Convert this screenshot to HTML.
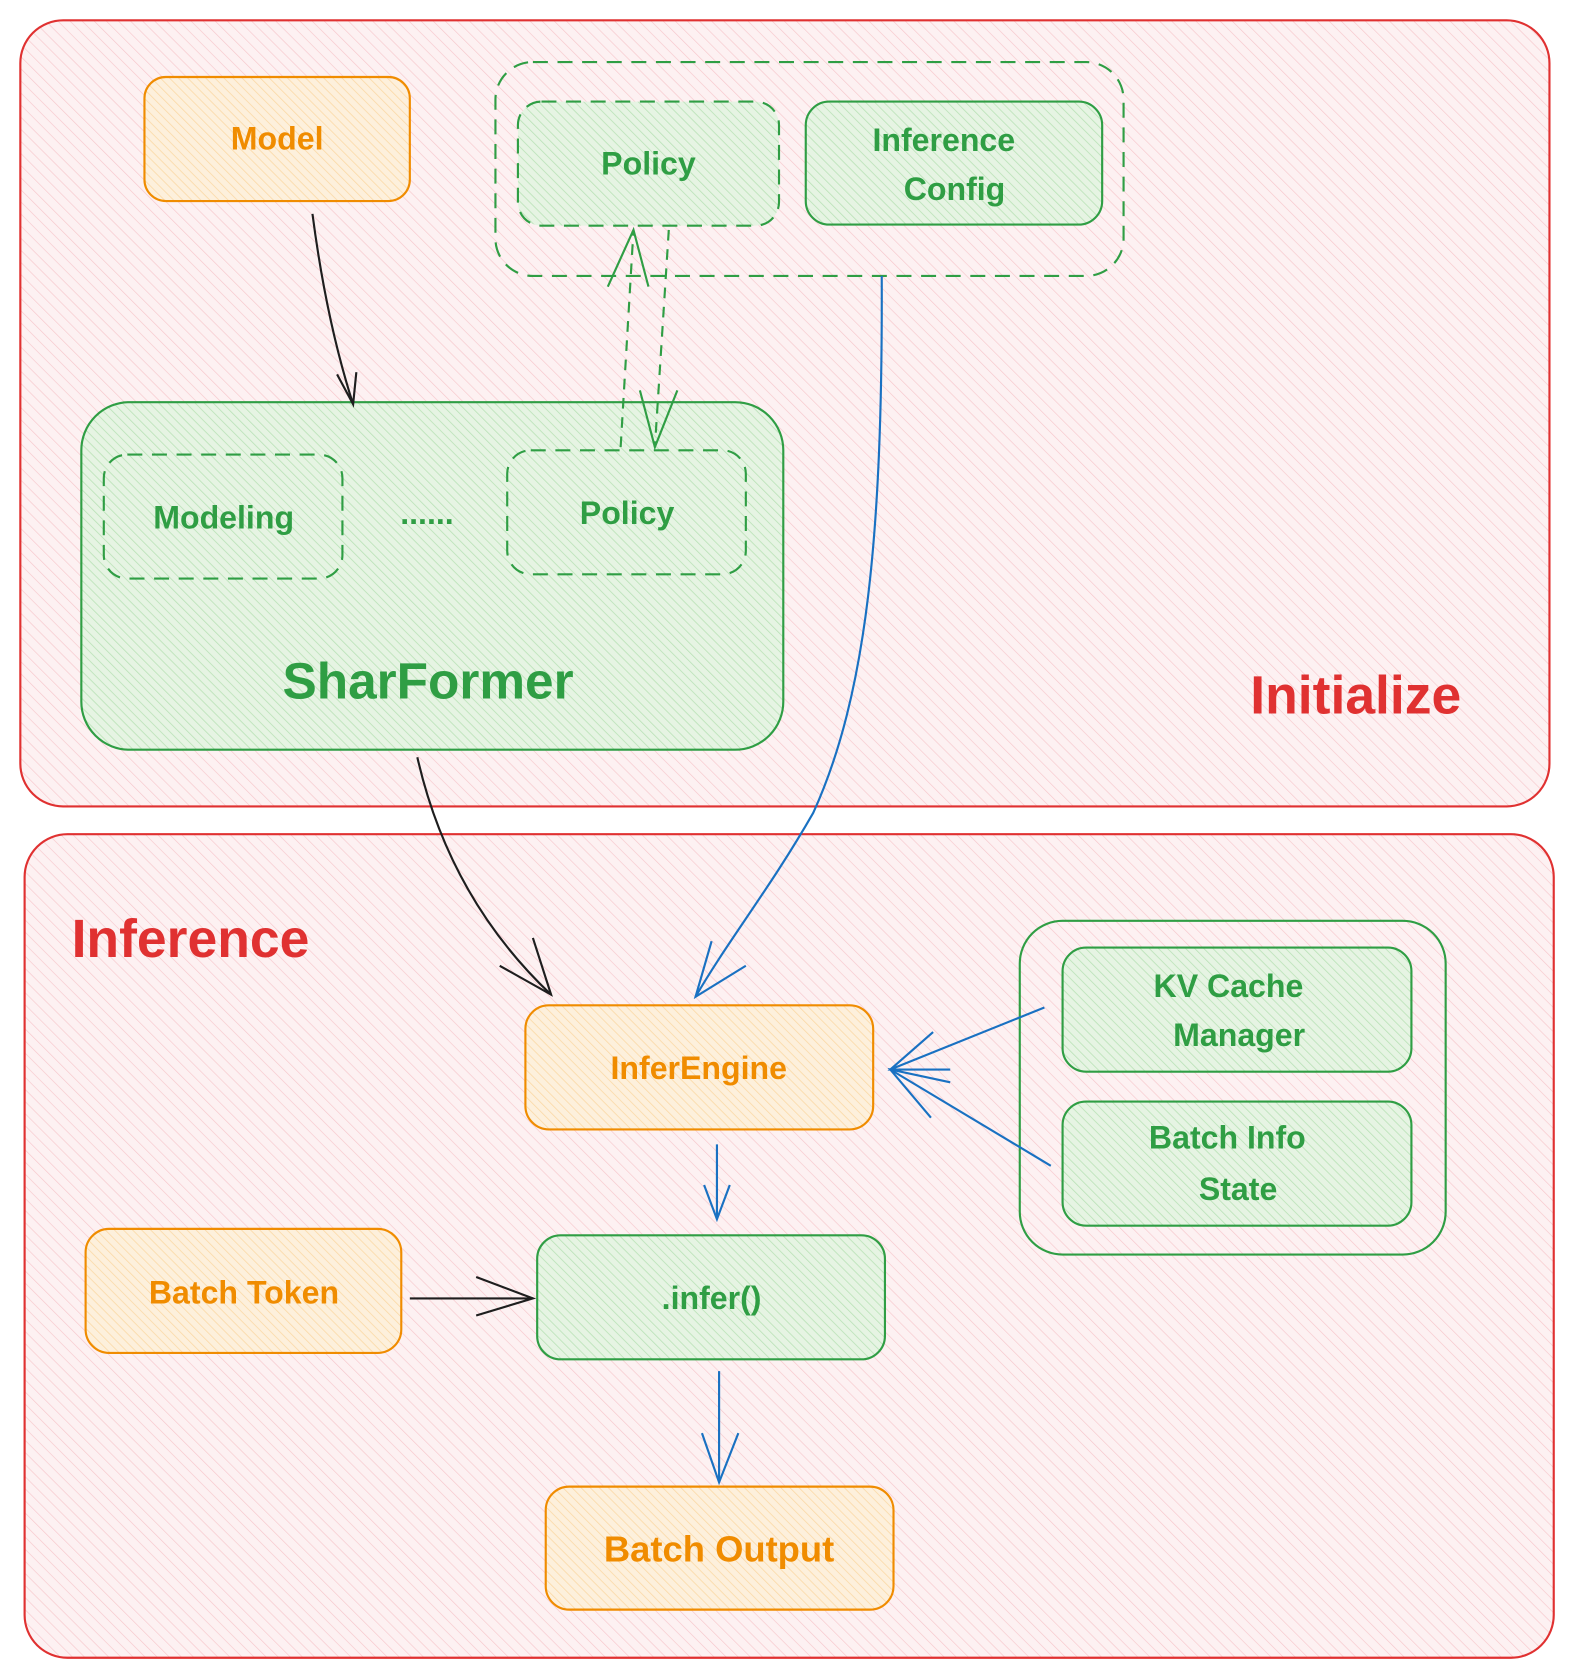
<!DOCTYPE html>
<html><head><meta charset="utf-8"><style>
html,body{margin:0;padding:0;background:#fff;}
svg{display:block;}
text{font-family:"Liberation Sans",sans-serif;font-weight:bold;}
</style></head><body>
<svg width="1573" height="1677" viewBox="0 0 1470 1568" preserveAspectRatio="none" xmlns="http://www.w3.org/2000/svg">
<defs>
<pattern id="hp" patternUnits="userSpaceOnUse" width="8" height="8" patternTransform="rotate(-45)">
<rect width="8" height="8" fill="#fdf1f2"/><line x1="0" y1="0" x2="0" y2="8" stroke="#f7c6cb" stroke-width="1.2"/></pattern>
<pattern id="hg" patternUnits="userSpaceOnUse" width="6" height="6" patternTransform="rotate(-45)">
<rect width="6" height="6" fill="#e6f4e3"/><line x1="0" y1="0" x2="0" y2="6" stroke="#b9e2b6" stroke-width="1.5"/></pattern>
<pattern id="ho" patternUnits="userSpaceOnUse" width="6" height="6" patternTransform="rotate(-45)">
<rect width="6" height="6" fill="#fdf0dc"/><line x1="0" y1="0" x2="0" y2="6" stroke="#fbd9a6" stroke-width="1.5"/></pattern>
</defs>
<rect width="1470" height="1568" fill="#fff"/>
<!-- containers -->
<rect x="19" y="19" width="1429" height="735" rx="40" fill="url(#hp)" stroke="#e03131" stroke-width="2"/>
<rect x="23" y="780" width="1429" height="770" rx="40" fill="url(#hp)" stroke="#e03131" stroke-width="2"/>
<!-- top group -->
<rect x="135" y="72" width="248" height="116" rx="20" fill="url(#ho)" stroke="#f08c00" stroke-width="2"/>
<text x="259" y="140" font-size="30" fill="#f08c00" text-anchor="middle">Model</text>
<rect x="463" y="58" width="587" height="200" rx="35" fill="none" stroke="#2f9e44" stroke-width="2" stroke-dasharray="14 9"/>
<rect x="484" y="95" width="244" height="116" rx="22" fill="url(#hg)" stroke="#2f9e44" stroke-width="2" stroke-dasharray="14 9"/>
<text x="606" y="163" font-size="30" fill="#2f9e44" text-anchor="middle">Policy</text>
<rect x="753" y="95" width="277" height="115" rx="22" fill="url(#hg)" stroke="#2f9e44" stroke-width="2"/>
<text x="882" y="141" font-size="30" fill="#2f9e44" text-anchor="middle">Inference</text>
<text x="892" y="187" font-size="30" fill="#2f9e44" text-anchor="middle">Config</text>
<rect x="76" y="376" width="656" height="325" rx="45" fill="url(#hg)" stroke="#2f9e44" stroke-width="2"/>
<rect x="97" y="425" width="223" height="116" rx="22" fill="none" stroke="#2f9e44" stroke-width="2" stroke-dasharray="14 9"/>
<text x="209" y="494" font-size="30" fill="#2f9e44" text-anchor="middle">Modeling</text>
<text x="399" y="490" font-size="30" fill="#2f9e44" text-anchor="middle">......</text>
<rect x="474" y="421" width="223" height="116" rx="22" fill="none" stroke="#2f9e44" stroke-width="2" stroke-dasharray="14 9"/>
<text x="586" y="490" font-size="30" fill="#2f9e44" text-anchor="middle">Policy</text>
<text x="400" y="653" font-size="48" fill="#2f9e44" text-anchor="middle">SharFormer</text>
<text x="1267" y="667" font-size="50" fill="#e03131" text-anchor="middle">Initialize</text>
<!-- arrows top -->
<path d="M292 200 Q305 300 330 378" fill="none" stroke="#1e1e1e" stroke-width="2"/>
<path d="M315 350 L330 378 L333 348" fill="none" stroke="#1e1e1e" stroke-width="2"/>
<path d="M580 418 L592 215" fill="none" stroke="#2f9e44" stroke-width="2" stroke-dasharray="10 8"/>
<path d="M568 268 L592 215 L606 268" fill="none" stroke="#2f9e44" stroke-width="2"/>
<path d="M625 215 L612 418" fill="none" stroke="#2f9e44" stroke-width="2" stroke-dasharray="10 8"/>
<path d="M598 365 L612 418 L633 365" fill="none" stroke="#2f9e44" stroke-width="2"/>
<path d="M824 258 C825 500 810 650 760 760 C720 830 680 880 650 932" fill="none" stroke="#1971c2" stroke-width="2"/>
<path d="M665 880 L650 932 L697 903" fill="none" stroke="#1971c2" stroke-width="2"/>
<path d="M390 708 Q420 840 515 930" fill="none" stroke="#1e1e1e" stroke-width="2"/>
<path d="M467 903 L515 930 L498 877" fill="none" stroke="#1e1e1e" stroke-width="2"/>
<!-- bottom -->
<text x="178" y="895" font-size="50" fill="#e03131" text-anchor="middle">Inference</text>
<rect x="491" y="940" width="325" height="116" rx="22" fill="url(#ho)" stroke="#f08c00" stroke-width="2"/>
<text x="653" y="1009" font-size="30" fill="#f08c00" text-anchor="middle">InferEngine</text>
<rect x="953" y="861" width="398" height="312" rx="40" fill="none" stroke="#2f9e44" stroke-width="2"/>
<rect x="993" y="886" width="326" height="116" rx="22" fill="url(#hg)" stroke="#2f9e44" stroke-width="2"/>
<text x="1148" y="932" font-size="30" fill="#2f9e44" text-anchor="middle">KV Cache</text>
<text x="1158" y="978" font-size="30" fill="#2f9e44" text-anchor="middle">Manager</text>
<rect x="993" y="1030" width="326" height="116" rx="22" fill="url(#hg)" stroke="#2f9e44" stroke-width="2"/>
<text x="1147" y="1074" font-size="30" fill="#2f9e44" text-anchor="middle">Batch Info</text>
<text x="1157" y="1122" font-size="30" fill="#2f9e44" text-anchor="middle">State</text>
<path d="M976 942 L832 1000 M982 1090 L832 1000" fill="none" stroke="#1971c2" stroke-width="2"/>
<path d="M872 965 L832 1000 L888 1000 M870 1045 L832 1000 L888 1012" fill="none" stroke="#1971c2" stroke-width="2"/>
<path d="M670 1070 L670 1140" fill="none" stroke="#1971c2" stroke-width="2"/>
<path d="M658 1108 L670 1140 L682 1108" fill="none" stroke="#1971c2" stroke-width="2"/>
<rect x="80" y="1149" width="295" height="116" rx="22" fill="url(#ho)" stroke="#f08c00" stroke-width="2"/>
<text x="228" y="1219" font-size="30" fill="#f08c00" text-anchor="middle">Batch Token</text>
<rect x="502" y="1155" width="325" height="116" rx="22" fill="url(#hg)" stroke="#2f9e44" stroke-width="2"/>
<text x="665" y="1224" font-size="30" fill="#2f9e44" text-anchor="middle">.infer()</text>
<path d="M383 1214 L498 1214" fill="none" stroke="#1e1e1e" stroke-width="2"/>
<path d="M445 1194 L498 1214 L445 1230" fill="none" stroke="#1e1e1e" stroke-width="2"/>
<path d="M672 1282 L672 1386" fill="none" stroke="#1971c2" stroke-width="2"/>
<path d="M656 1340 L672 1386 L690 1340" fill="none" stroke="#1971c2" stroke-width="2"/>
<rect x="510" y="1390" width="325" height="115" rx="22" fill="url(#ho)" stroke="#f08c00" stroke-width="2"/>
<text x="672" y="1460" font-size="34" fill="#f08c00" text-anchor="middle">Batch Output</text>
</svg>
</body></html>
